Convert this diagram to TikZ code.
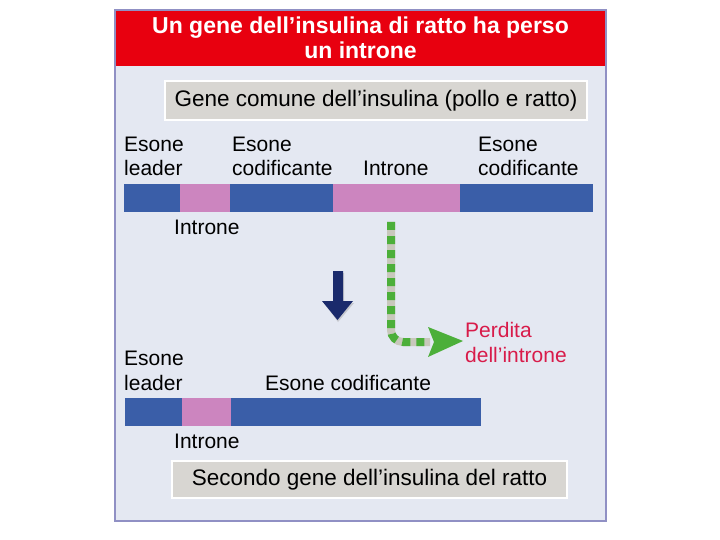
\documentclass[tikz,border=0pt]{standalone}
\usepackage{fontspec}
\setmainfont{Liberation Sans}
\usetikzlibrary{arrows.meta,calc}
\definecolor{bgc}{HTML}{E4E8F2}
\definecolor{framec}{HTML}{9090C4}
\definecolor{redc}{HTML}{E8000F}
\definecolor{boxc}{HTML}{D8D6D2}
\definecolor{bluec}{HTML}{3A5EA8}
\definecolor{pinkc}{HTML}{CC85BF}
\definecolor{greenc}{HTML}{4CAF3A}
\definecolor{grayc}{HTML}{C8C8BC}
\definecolor{navyc}{HTML}{1A2A6C}
\definecolor{lossc}{HTML}{D81B4A}
\tikzset{
  lbl/.style={anchor=base west, inner sep=0pt, font=\fontsize{21}{24.5}\selectfont, align=left},
  titlebox/.style={draw=white, line width=1.5pt, fill=boxc, inner sep=0pt, font=\fontsize{22.5}{26}\selectfont},
  exon/.style={fill=bluec},
  intron/.style={fill=pinkc},
}
\begin{document}
\begin{tikzpicture}[x=1pt,y=-1pt]
\useasboundingbox (0,0) rectangle (720,540);
\fill[white] (0,0) rectangle (720,540);
% frame
\draw[framec, line width=2pt, fill=bgc] (115,10) rectangle (606,521);
\fill[redc] (116,11) rectangle (605,66);
\node[font=\bfseries\fontsize{23}{25}\selectfont, text=white, align=center, inner sep=0pt] (title) at (360.5,38) {Un gene dell’insulina di ratto ha perso\\un introne};
% top box
\node[titlebox, minimum width=422pt, minimum height=39pt] (box1) at (376,100.5) {Gene comune dell’insulina (pollo e ratto)};
% top gene
\fill[exon] (124,184) rectangle (180,212);
\fill[intron] (180,184) rectangle (230,212);
\fill[exon] (230,184) rectangle (333,212);
\fill[intron] (333,184) rectangle (460,212);
\fill[exon] (460,184) rectangle (593,212);
\node[lbl] (l1) at (124,176) {Esone\\leader};
\node[lbl] (l2) at (232,176) {Esone\\codificante};
\node[lbl] (l3) at (363,176) {Introne};
\node[lbl] (l4) at (478,176) {Esone\\codificante};
\node[lbl] (l5) at (174,235) {Introne};
% navy arrow
\fill[black!40, opacity=0.4] (324,303) -- (334,303) -- (334,273) -- (344,273) -- (344,303) -- (354,303) -- (338,322) -- cycle;
\fill[navyc] (322,301) -- (333,301) -- (333,271) -- (343,271) -- (343,301) -- (353,301) -- (337.5,320) -- cycle;
% green dashed path
\coordinate (gs) at (391,222);
\coordinate (gc) at (391,342);
\coordinate (ge) at (430,342);
\draw[grayc, line width=8pt] (gs) -- ($(gc)+(0,-12)$) to[out=-90,in=180] ($(gc)+(12,0)$) -- (ge);
\draw[greenc, line width=8pt, dash pattern=on 8pt off 6pt] (gs) -- ($(gc)+(0,-12)$) to[out=-90,in=180] ($(gc)+(12,0)$) -- (ge);
\fill[greenc] (428,327) -- (463,341) -- (428,357) -- (434,342) -- cycle;
\node[lbl, text=lossc] (loss) at (465,362) {Perdita\\dell’introne};
% bottom gene
\fill[exon] (125,398) rectangle (182,426);
\fill[intron] (182,398) rectangle (231,426);
\fill[exon] (231,398) rectangle (481,426);
\node[lbl] (b1) at (124,390) {Esone\\leader};
\node[lbl] (b2) at (265,390) {Esone codificante};
\node[lbl] (b3) at (174,448) {Introne};
\node[titlebox, minimum width=395pt, minimum height=37pt] (box2) at (369.5,479.5) {Secondo gene dell’insulina del ratto};
\end{tikzpicture}
\end{document}
